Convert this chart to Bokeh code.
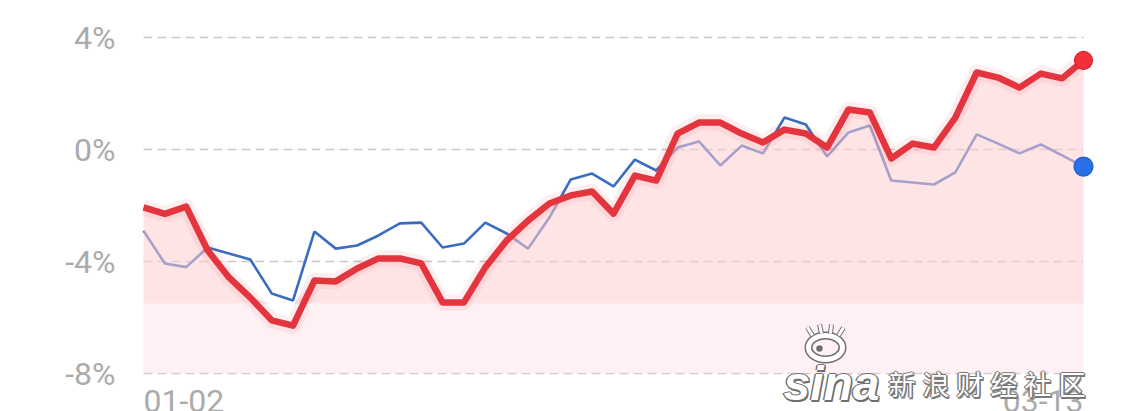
import numpy as np
from bokeh.plotting import figure
from bokeh.models import Range1d, FixedTicker, CustomJSTickFormatter
from bokeh.core.properties import value
from bokeh.embed import file_html
from bokeh.resources import INLINE

# ---- data (percent returns, 45 trading days 01-02 .. 03-13) ----
red_vals = [-2.07, -2.30, -2.04, -3.60, -4.57, -5.29, -6.10, -6.29, -4.68, -4.71,
            -4.25, -3.89, -3.89, -4.07, -5.46, -5.46, -4.21, -3.25, -2.54, -1.93,
            -1.64, -1.50, -2.29, -0.93, -1.11, 0.57, 0.96, 0.96, 0.57, 0.25,
            0.71, 0.57, 0.07, 1.43, 1.32, -0.32, 0.21, 0.07, 1.14, 2.75,
            2.57, 2.21, 2.71, 2.54, 3.18]
blue_vals = [-2.90, -4.07, -4.20, -3.50, -3.71, -3.93, -5.14, -5.39, -2.93, -3.54,
             -3.43, -3.07, -2.64, -2.61, -3.50, -3.36, -2.61, -3.00, -3.54, -2.43,
             -1.07, -0.86, -1.32, -0.36, -0.75, 0.07, 0.29, -0.57, 0.14, -0.14,
             1.14, 0.89, -0.25, 0.61, 0.86, -1.11, -1.18, -1.25, -0.82, 0.54,
             0.21, -0.14, 0.18, -0.21, -0.61]
y_ticks = [4, 0, -4, -8]
x_tick_labels = ["01-02", "03-13"]
x_tick_index = [0, 44]
watermark_chars = ["新", "浪", "财", "经", "社", "区"]

n = len(red_vals)
xs = np.arange(n)
red = np.array(red_vals)
blue = np.array(blue_vals)

H = 411
FL, FW = 134, 960
FR = 1131 - FL - FW
PXU = 21.3636   # px per x unit
PYU = 28.0      # px per 1%
p = figure(frame_width=FW, frame_height=H, output_backend="svg", toolbar_location=None,
           x_range=Range1d(-(143 - FL) / PXU, 44 + (FL + FW - 1083) / PXU),
           y_range=Range1d(4 - (H - 37) / PYU, 4 + 37 / PYU),
           min_border_left=FL, min_border_right=FR, min_border_top=0, min_border_bottom=0,
           background_fill_color="white", border_fill_color="white", outline_line_color=None)
p.xaxis.visible = False
p.grid.visible = False

ax = p.yaxis[0]
ax.ticker = FixedTicker(ticks=y_ticks)
ax.formatter = CustomJSTickFormatter(code="return tick + '%';")
ax.axis_line_color = None
ax.major_tick_line_color = None
ax.minor_tick_line_color = None
ax.major_tick_out = 0
ax.major_tick_in = 0
ax.major_label_standoff = 19
ax.major_label_text_font = "Roboto"
ax.major_label_text_font_size = "32px"
ax.major_label_text_color = "#ababab"

def px2x(px):
    return (px - 143) / PXU

def py2y(py):
    return (149 - py) / PYU

# dashed grid lines across data range
p.segment(x0=[0] * len(y_ticks), x1=[n - 1] * len(y_ticks), y0=y_ticks, y1=y_ticks,
          line_color="#c8c8c8", line_width=1.5, line_dash="9 5")

# blue line (drawn under the fill)
p.line(xs, blue, line_color="#3a6cc2", line_width=2.6)

# fill under red line (two-tone)
bottom = y_ticks[-1]
split = -5.5
p.varea(x=xs, y1=np.full(n, bottom), y2=np.minimum(red, split), fill_color="#ffe4ea", fill_alpha=0.55)
p.varea(x=xs, y1=np.full(n, split), y2=np.maximum(red, split), fill_color="#ffced2", fill_alpha=0.55)

# red line with glow
p.line(xs, red, line_color="#e8343e", line_width=16, line_alpha=0.08, line_join="round")
p.line(xs, red, line_color="#e4343e", line_width=6.5, line_join="round")

# end dots
p.scatter([xs[-1]], [red[-1]], size=18, fill_color="#f2303c", line_color="#d42630", line_width=1.2)
p.scatter([xs[-1]], [blue[-1]], size=19, fill_color="#2a6ee8", line_color="#1f5ecc", line_width=1.2)

# x tick labels (cut off at bottom, as in the reference)
p.text(x=[x_tick_index[0]], y=[py2y(389)], text=[x_tick_labels[0]], text_align="left",
       text_baseline="top", text_font=value("Roboto"), text_font_size="32px", text_color="#ababab")
p.text(x=[x_tick_index[1]], y=[py2y(389)], text=[x_tick_labels[1]], text_align="right",
       text_baseline="top", text_font=value("Roboto"), text_font_size="32px", text_color="#ababab")

# watermark
offs = [(-1.5, 0), (1.5, 0), (0, -1.5), (0, 1.5), (1.5, 1.5)]
cx = [px2x(888 + 34 * i) for i in range(len(watermark_chars))]
for dx, dy in offs:
    p.text(x=[px2x(783)], y=[py2y(383)], text=["sina"], x_offset=dx, y_offset=dy,
           text_font=value("Liberation Sans"), text_font_style="bold italic", text_font_size="48px",
           text_color="#6e6e6e", text_baseline="alphabetic")
    p.text(x=cx, y=[py2y(383)] * len(cx), text=watermark_chars, x_offset=dx, y_offset=dy,
           text_font=value("Noto Sans CJK SC"), text_font_size="27px", text_color="#7a7a7a",
           text_baseline="alphabetic")
p.text(x=[px2x(783)], y=[py2y(383)], text=["sina"], text_font=value("Liberation Sans"),
       text_font_style="bold italic", text_font_size="48px", text_color="white", text_baseline="alphabetic")
p.text(x=cx, y=[py2y(383)] * len(cx), text=watermark_chars, text_font=value("Noto Sans CJK SC"),
       text_font_size="27px", text_color="white", text_baseline="alphabetic")
# eye logo
p.ellipse(x=[px2x(825)], y=[py2y(347)], width=34, height=24, width_units="screen", height_units="screen",
          fill_color=None, line_color="#707070", line_width=8)
p.ellipse(x=[px2x(825)], y=[py2y(347)], width=34, height=24, width_units="screen", height_units="screen",
          fill_color=None, line_color="white", line_width=5)
p.scatter([px2x(819)], [py2y(348)], size=8, fill_color="#707070", line_color="white", line_width=1.5)
p.multi_line(xs=[[px2x(812), px2x(807)], [px2x(821), px2x(819)], [px2x(830), px2x(831)], [px2x(838), px2x(843)]],
             ys=[[py2y(335), py2y(327)], [py2y(333), py2y(324)], [py2y(333), py2y(324)], [py2y(335), py2y(327)]],
             line_color="#707070", line_width=5)
p.multi_line(xs=[[px2x(812), px2x(807)], [px2x(821), px2x(819)], [px2x(830), px2x(831)], [px2x(838), px2x(843)]],
             ys=[[py2y(335), py2y(327)], [py2y(333), py2y(324)], [py2y(333), py2y(324)], [py2y(335), py2y(327)]],
             line_color="white", line_width=3)

open("out.html", "w").write(file_html(p, INLINE))
